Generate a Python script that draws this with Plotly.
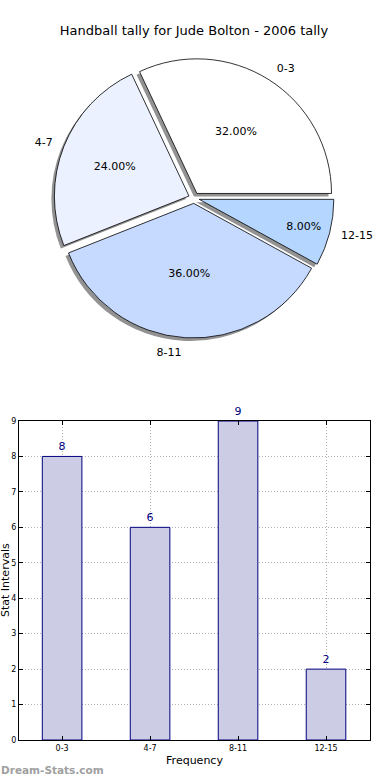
import plotly.graph_objects as go

categories = ["0-3", "4-7", "8-11", "12-15"]
counts = [8, 6, 9, 2]
pie_colors = ["#ffffff", "#ebf1ff", "#c6d9fe", "#b5d6fe"]
y_ticks = [0, 1, 2, 3, 4, 5, 6, 7, 8, 9]

FONT = "DejaVu Sans"
W, H = 390, 780

# pie placement (pixels)
cx, cy, half = 194, 198, 140
pull = 0.04
sdx, sdy = -3, 3  # shadow offset

# matplotlib-style start: first slice begins at 3 o'clock, counterclockwise.
# plotly ccw puts the first slice's clockwise edge at `rotation`.
first_share = counts[0] / sum(counts)
rotation = 90 - 360 * first_share


def dom(cx, cy, h=half):
    return dict(x=[(cx - h) / W, (cx + h) / W],
                y=[1 - (cy + h) / H, 1 - (cy - h) / H])


fig = go.Figure()

# invisible, slightly larger pie that carries the outside category labels
fig.add_trace(go.Pie(
    labels=categories, values=counts, sort=False,
    direction="counterclockwise", rotation=rotation,
    marker=dict(colors=["rgba(0,0,0,0)"] * 4, line=dict(width=0)),
    textinfo="label", textposition="outside",
    textfont=dict(family=FONT, size=11, color="black"),
    domain=dom(cx, cy, half * 1.06), showlegend=False, hoverinfo="skip",
    automargin=False,
))

# shadow pie
fig.add_trace(go.Pie(
    labels=categories, values=counts, sort=False,
    direction="counterclockwise", rotation=rotation,
    pull=[pull] * 4,
    marker=dict(colors=["rgba(110,110,110,0.75)"] * 4, line=dict(width=0)),
    textinfo="none",
    domain=dom(cx + sdx, cy + sdy), showlegend=False, hoverinfo="skip",
    automargin=False,
))

# main pie
fig.add_trace(go.Pie(
    labels=categories, values=counts, sort=False,
    direction="counterclockwise", rotation=rotation,
    pull=[pull] * 4,
    marker=dict(colors=pie_colors, line=dict(color="black", width=0.8)),
    texttemplate="%{percent:.2%}", textposition="inside",
    insidetextorientation="horizontal",
    textfont=dict(family=FONT, size=11, color="black"),
    domain=dom(cx, cy), showlegend=False, automargin=False,
))

# bar chart
fig.add_trace(go.Bar(
    x=categories, y=counts, width=0.45,
    marker=dict(color="#ccccE4", line=dict(color="#000080", width=1)),
    text=[str(v) for v in counts], textposition="outside",
    textfont=dict(family=FONT, size=11, color="#000080"),
    cliponaxis=False, showlegend=False, xaxis="x", yaxis="y",
))

axis_common = dict(
    showline=True, linecolor="black", linewidth=1, mirror="ticks",
    showgrid=True, gridcolor="#b0b0b0", griddash="1px,2px", gridwidth=1,
    ticks="inside", ticklen=4, tickcolor="black",
    tickfont=dict(family=FONT, size=8, color="black"),
    zeroline=False, automargin=False,
)

fig.update_layout(
    width=W, height=H,
    margin=dict(l=0, r=0, t=0, b=0, autoexpand=False),
    paper_bgcolor="white", plot_bgcolor="white",
    font=dict(family=FONT, color="black"),
    title=dict(text="Handball tally for Jude Bolton - 2006 tally",
               x=194 / W, xanchor="center", y=1 - 30 / H, yanchor="middle",
               font=dict(family=FONT, size=13, color="black")),
    xaxis=dict(domain=[19 / W, 370 / W], range=[-0.49, 3.5],
               title=dict(text="Frequency", font=dict(family=FONT, size=11), standoff=4),
               **axis_common),
    yaxis=dict(domain=[1 - 740 / H, 1 - 421 / H], range=[0, 9],
               tickvals=y_ticks, **axis_common),
    annotations=[
        dict(text="Stat Intervals", textangle=-90, x=5 / W, y=1 - 580 / H,
             xref="paper", yref="paper", showarrow=False,
             font=dict(family=FONT, size=11, color="black"),
             xanchor="center", yanchor="middle"),
        dict(text="<b>Dream-Stats.com</b>", x=-1 / W, y=1 - 770 / H,
             xref="paper", yref="paper", showarrow=False,
             font=dict(family=FONT, size=10.5, color="#a0a0a0"),
             xanchor="left", yanchor="middle"),
    ],
)

fig.write_html(
    "out.html",
    config={"displayModeBar": False},
    post_script="document.body.style.margin='0';document.body.style.overflow='hidden';",
)
